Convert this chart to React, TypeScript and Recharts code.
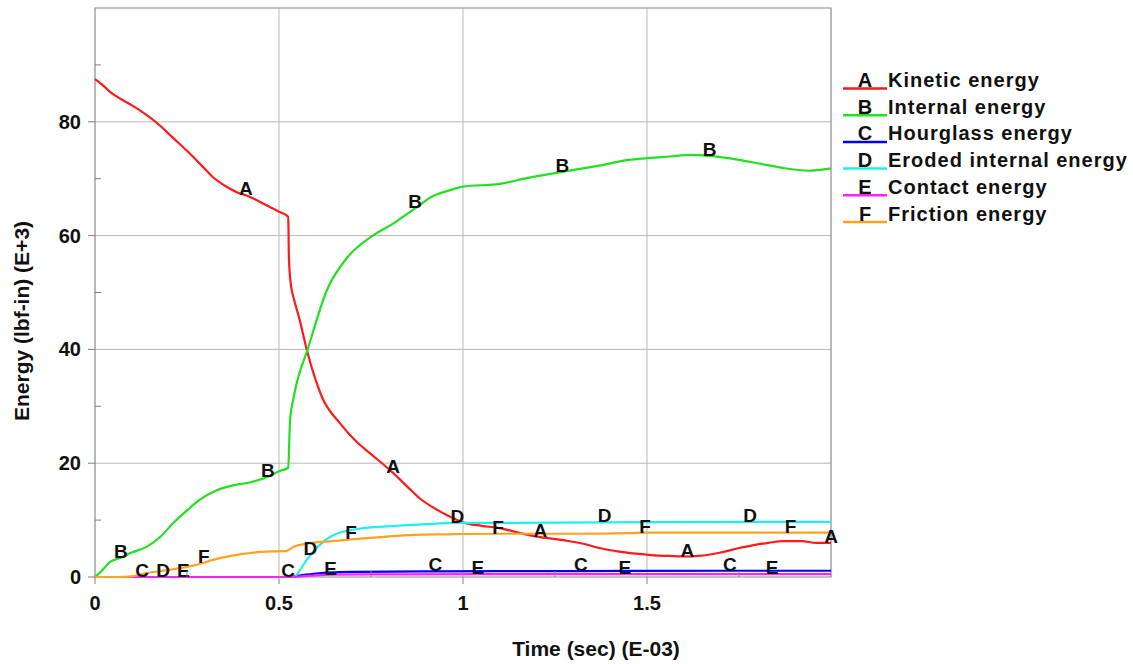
import { LineChart, Line, XAxis, YAxis, CartesianGrid, ReferenceArea } from "recharts";

// time in E-03 sec, energy in E+3 lbf-in
const kinetic: [number, number][] = [
  [0, 87.5], [0.02, 86.5], [0.04, 85.3], [0.07, 84], [0.103, 82.8], [0.14, 81.2], [0.177, 79.3],
  [0.21, 77.3], [0.25, 74.9], [0.29, 72.3], [0.32, 70.3], [0.36, 68.5], [0.394, 67.4], [0.41, 67.1],
  [0.44, 66.2], [0.467, 65.3], [0.5, 64.2], [0.525, 63.3], [0.527, 56], [0.532, 51.5], [0.54, 49.0],
  [0.555, 45.5], [0.576, 39.8], [0.617, 31.6], [0.666, 27.0], [0.71, 23.8], [0.75, 21.6], [0.81, 18.3],
  [0.85, 15.8], [0.883, 13.8], [0.93, 11.8], [0.965, 10.6], [1.0, 9.6], [1.05, 9.0], [1.1, 8.6],
  [1.15, 7.8], [1.21, 7.0], [1.28, 6.4], [1.33, 5.8], [1.37, 5.1], [1.42, 4.5], [1.47, 4.1],
  [1.52, 3.8], [1.56, 3.7], [1.61, 3.6], [1.64, 3.7], [1.7, 4.3], [1.745, 5.0], [1.79, 5.6],
  [1.83, 6.0], [1.87, 6.3], [1.92, 6.3], [1.96, 6.0], [2.0, 6.0],
];
const internal: [number, number][] = [
  [0, 0], [0.02, 1.2], [0.04, 2.6], [0.07, 3.4], [0.1, 4.3], [0.14, 5.3], [0.18, 7.2], [0.21, 9.3],
  [0.25, 11.7], [0.285, 13.6], [0.33, 15.2], [0.375, 16.1], [0.42, 16.6], [0.47, 17.6], [0.5, 18.6],
  [0.525, 19.2], [0.53, 27.5], [0.54, 31.6], [0.58, 40.4], [0.63, 50.4], [0.685, 56.1], [0.755, 60],
  [0.81, 62.1], [0.87, 64.8], [0.92, 67], [0.965, 68], [1.0, 68.6], [1.1, 69.1], [1.18, 70.2],
  [1.27, 71.2], [1.37, 72.3], [1.45, 73.3], [1.5, 73.6], [1.56, 73.9], [1.62, 74.2], [1.67, 74.0],
  [1.75, 73.3], [1.81, 72.6], [1.86, 72.0], [1.94, 71.4], [2.0, 71.8],
];
const hourglass: [number, number][] = [
  [0, 0], [0.128, 0], [0.5, 0], [0.525, 0], [0.56, 0.3], [0.6, 0.6], [0.64, 0.8], [0.7, 0.9],
  [0.925, 1.0], [1.32, 1.05], [1.725, 1.1], [2.0, 1.1],
];
const eroded: [number, number][] = [
  [0, 0], [0.185, 0], [0.54, 0], [0.56, 1.5], [0.575, 3.0], [0.585, 3.8], [0.61, 5.6], [0.635, 6.9],
  [0.66, 7.7], [0.7, 8.3], [0.73, 8.6], [0.82, 9.0], [0.9, 9.3], [0.985, 9.5], [1.05, 9.5],
  [1.385, 9.6], [1.78, 9.7], [2.0, 9.7],
];
const contact: [number, number][] = [
  [0, 0], [0.24, 0], [0.53, 0], [0.56, 0.1], [0.6, 0.3], [0.64, 0.4], [0.75, 0.45], [1.04, 0.5],
  [1.44, 0.5], [1.84, 0.5], [2.0, 0.5],
];
const friction: [number, number][] = [
  [0, 0], [0.06, 0], [0.1, 0.1], [0.14, 0.7], [0.195, 1.2], [0.26, 1.9], [0.296, 2.5], [0.32, 3.0],
  [0.385, 3.9], [0.45, 4.4], [0.52, 4.6], [0.54, 5.3], [0.59, 6.0], [0.645, 6.3], [0.696, 6.6],
  [0.775, 7.0], [0.865, 7.4], [0.955, 7.5], [1.095, 7.6], [1.3, 7.6], [1.45, 7.7], [1.495, 7.8],
  [1.89, 7.8], [2.0, 7.8],
];

// where the curve letters sit
const marksA = [0.41, 0.81, 1.21, 1.61, 2.0];
const marksB = [0.07, 0.47, 0.87, 1.27, 1.67];
const marksC = [0.128, 0.525, 0.925, 1.32, 1.725];
const marksD = [0.185, 0.585, 0.985, 1.385, 1.78];
const marksE = [0.24, 0.64, 1.04, 1.44, 1.84];
const marksF = [0.296, 0.696, 1.095, 1.495, 1.89];

const xTicks = [0, 0.25, 0.5, 0.75, 1, 1.25, 1.5, 1.75];
const xLabels = [0, 0.5, 1, 1.5];
const yTicks = [0, 10, 20, 30, 40, 50, 60, 70, 80, 90];
const yLabels = [0, 20, 40, 60, 80];

const FONT = "'Liberation Sans', Arial, sans-serif";

const series = [
  { letter: "A", name: "Kinetic energy", color: "#ff1a1a", points: kinetic, marks: marksA },
  { letter: "B", name: "Internal energy", color: "#22e022", points: internal, marks: marksB },
  { letter: "C", name: "Hourglass energy", color: "#0000f0", points: hourglass, marks: marksC },
  { letter: "D", name: "Eroded internal energy", color: "#22eeee", points: eroded, marks: marksD },
  { letter: "E", name: "Contact energy", color: "#ff22ff", points: contact, marks: marksE },
  { letter: "F", name: "Friction energy", color: "#ffa21f", points: friction, marks: marksF },
];

const toRows = (pts: [number, number][]) => pts.map(([t, v]) => ({ t, v }));

const markDot = (letter: string, marks: number[]) => (props: any) => {
  const { cx, cy, payload, index } = props;
  if (!marks.includes(payload.t)) return <g key={`${letter}-${index}`} />;
  return (
    <text key={`${letter}-${index}`} x={cx} y={cy} textAnchor="middle" fontSize={19}
      fontWeight="bold" fontFamily={FONT} fill="#111">
      {letter}
    </text>
  );
};

const YTick = (props: any) => {
  const { x, y, payload } = props;
  const major = yLabels.includes(payload.value);
  if (!major) return <line x1={x} x2={x + 6} y1={y} y2={y} stroke="#808080" />;
  return (
    <g>
      <line x1={x - 7} x2={x} y1={y} y2={y} stroke="#808080" />
      <text x={x - 14} y={y} dy={7} textAnchor="end" fontSize={20} fontWeight="bold" fontFamily={FONT} fill="#111">
        {payload.value}
      </text>
    </g>
  );
};

const XTick = (props: any) => {
  const { x, y, payload } = props;
  const major = xLabels.includes(payload.value);
  if (!major) return <line x1={x} x2={x} y1={y - 6} y2={y} stroke="#808080" />;
  return (
    <g>
      <line x1={x} x2={x} y1={y} y2={y + 7} stroke="#808080" />
      <text x={x} y={y + 33} textAnchor="middle" fontSize={20} fontWeight="bold" fontFamily={FONT} fill="#111">
        {payload.value}
      </text>
    </g>
  );
};

export default function App() {
  return (
    <div style={{ position: "absolute", left: 0, top: 0, width: 1133, height: 664, background: "#fff" }}>
      <LineChart width={1133} height={664} margin={{ top: 8, right: 302, bottom: 0, left: 0 }}>
        <CartesianGrid stroke="#b8b8b8" horizontalValues={[20, 40, 60, 80]} verticalValues={[0.5, 1, 1.5]} />
        <XAxis type="number" dataKey="t" domain={[0, 2]} ticks={xTicks} height={87}
          tickSize={0} tickMargin={0} tickLine={false} axisLine={false} tick={<XTick />} interval={0} />
        <YAxis type="number" domain={[0, 100]} ticks={yTicks} width={95}
          tickSize={0} tickMargin={0} tickLine={false} axisLine={false} tick={<YTick />} interval={0} />
        <ReferenceArea x1={0} x2={2} y1={0} y2={100} fill="none" stroke="#8a8a8a" strokeWidth={1.2} />
        {series.map((s) => (
          <Line key={s.letter} data={toRows(s.points)} dataKey="v" name={s.name} type="monotone"
            stroke={s.color} strokeWidth={2.2} dot={markDot(s.letter, s.marks)} activeDot={false}
            isAnimationActive={false} />
        ))}
      </LineChart>
      <svg width={1133} height={664} style={{ position: "absolute", left: 0, top: 0, pointerEvents: "none" }}
        fontFamily={FONT} fontWeight="bold" fill="#111">
        {series.map((s, i) => {
          const base = 87 + i * 26.7;
          return (
            <g key={s.letter}>
              <line x1={843} x2={887} y1={base + 1.5} y2={base + 1.5} stroke={s.color} strokeWidth={2.5} />
              <text x={865} y={base} textAnchor="middle" fontSize={20}>{s.letter}</text>
              <text x={888} y={base} fontSize={20} letterSpacing={1}>{s.name}</text>
            </g>
          );
        })}
        <text x={596} y={656} textAnchor="middle" fontSize={21}>Time (sec) (E-03)</text>
        <text transform="translate(29,321) rotate(-90)" textAnchor="middle" fontSize={21}>Energy (lbf-in) (E+3)</text>
      </svg>
    </div>
  );
}
